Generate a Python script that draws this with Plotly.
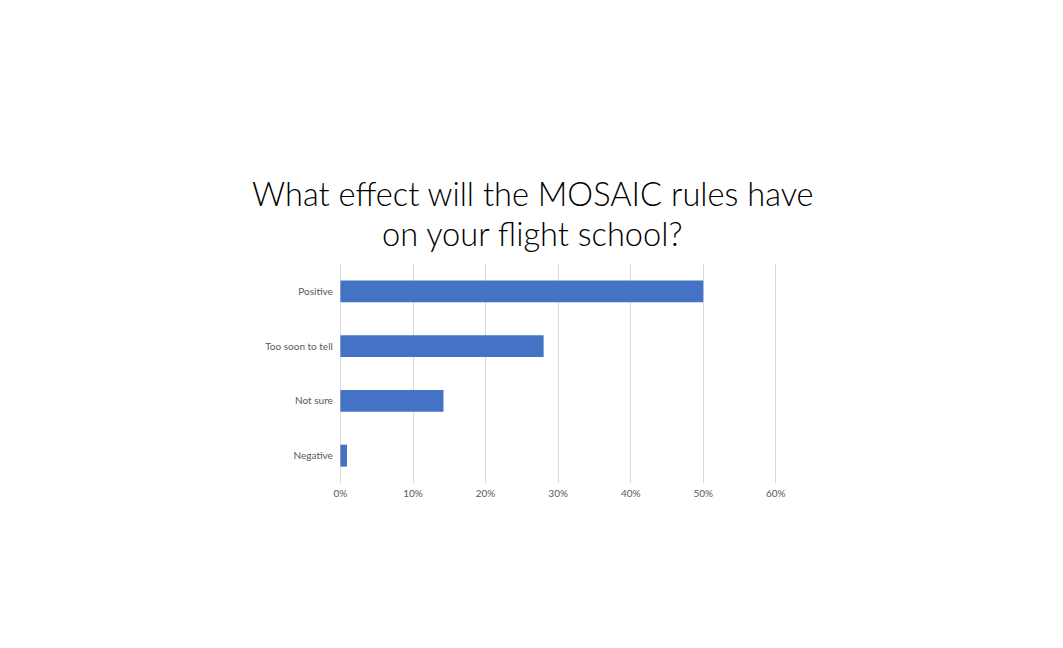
import plotly.graph_objects as go

categories = ["Positive", "Too soon to tell", "Not sure", "Negative"]
values = [0.50, 0.28, 0.142, 0.009]
tick_vals = [0, 0.1, 0.2, 0.3, 0.4, 0.5, 0.6]
tick_text = ["0%", "10%", "20%", "30%", "40%", "50%", "60%"]
title_lines = ["What effect will the MOSAIC rules have", "on your flight school?"]

L, R, T, B = 331, 293, 256, 173
W, H = 1063, 648
pw, ph = W - L - R, H - T - B

fig = go.Figure(go.Bar(
    x=values, y=categories, orientation="h",
    marker=dict(color="#4472C4", line=dict(width=0)),
    width=0.4,
))

title_font = dict(family="Lato", size=32.6, color="#000000", weight=300)
cx = (524.5 - L) / pw
for txt, ymid in zip(title_lines, [185.5, 226.0]):
    fig.add_annotation(text=txt, x=cx, xref="paper", xanchor="center",
                       y=1 + (T - ymid) / ph, yref="paper", yanchor="middle",
                       showarrow=False, font=title_font)

fig.update_layout(
    width=W, height=H,
    paper_bgcolor="white", plot_bgcolor="white",
    margin=dict(l=L, r=R, t=T, b=B),
    showlegend=False,
)
fig.update_xaxes(range=[-0.002, 0.603], tickvals=tick_vals, ticktext=tick_text,
                 showgrid=True, gridcolor="#D9D9D9", gridwidth=1,
                 zeroline=False, showline=False, ticks="",
                 ticklabelstandoff=3,
                 tickfont=dict(family="Lato", size=10, color="#595959"))
fig.update_yaxes(autorange="reversed", showgrid=False, ticks="", showline=False,
                 ticksuffix="  ",
                 tickfont=dict(family="Lato", size=10, color="#595959"))

fig.write_html("out.html")
